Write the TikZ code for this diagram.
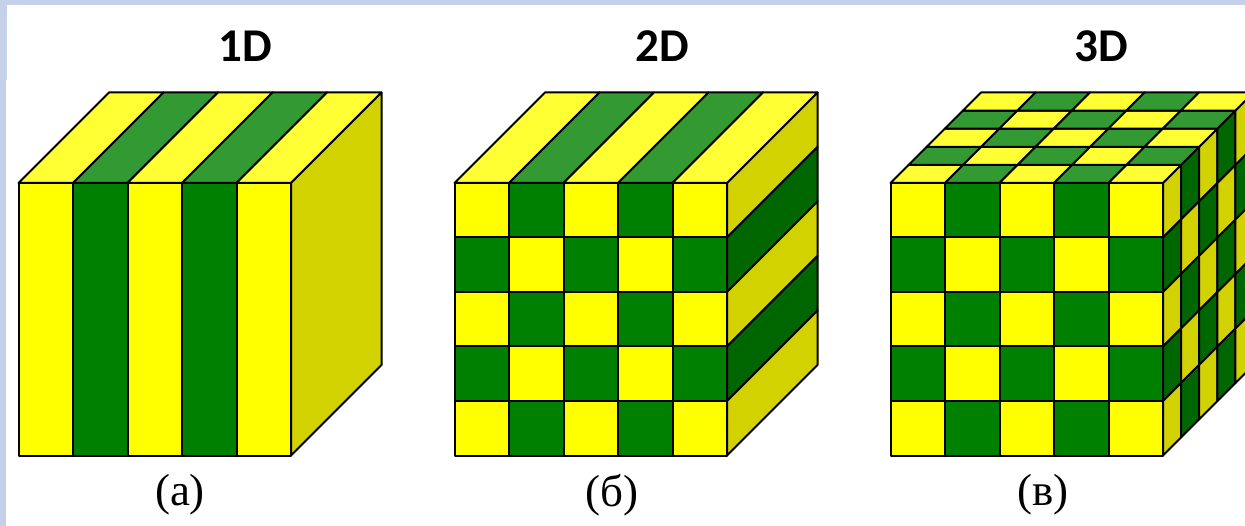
\documentclass[tikz,border=0pt]{standalone}
\usepackage{fontspec}
\setmainfont{Liberation Serif}
\newfontfamily\headfont{Carlito}
\definecolor{fy}{HTML}{FFFF00}
\definecolor{fg}{HTML}{008000}
\definecolor{ty}{HTML}{FFFF33}
\definecolor{tg}{HTML}{339933}
\definecolor{sy}{HTML}{D2D200}
\definecolor{sg}{HTML}{006600}
\definecolor{barcol}{HTML}{C5D0E9}
\tikzset{
  x=1pt,y=-1pt,
  cell/.style={draw=black,line width=2pt,line join=round},
  headtext/.style={font=\headfont\bfseries\fontsize{47}{47}\selectfont,text=black,inner sep=0pt},
  captext/.style={font=\fontsize{45}{45}\selectfont,text=black,inner sep=0pt}
}
\begin{document}
\begin{tikzpicture}
\def\cs{54.5}
\def\ds{18.1}
\def\dd{90.5}
\def\ww{272.5}
\useasboundingbox (0,0) rectangle (1245,526);
\clip (0,0) rectangle (1245,526);
\fill[white] (0,0) rectangle (1245,526);
\fill[barcol] (0,0) rectangle (1245,5);
\fill[barcol] (0,0) rectangle (7,80);
\fill[barcol] (0,80) rectangle (6,526);
% ---------- cube a
\begin{scope}[shift={(18.5,183)}]
  \foreach \i in {0,...,4}{
    \pgfmathsetmacro{\xa}{\i*\cs}
    \pgfmathtruncatemacro{\p}{mod(\i,2)}
    \ifnum\p=0 \def\fc{fy}\def\tc{ty}\else\def\fc{fg}\def\tc{tg}\fi
    \filldraw[fill=\tc,cell] (\xa,0) -- ++(\dd,-\dd) -- ++(\cs,0) -- ++(-\dd,\dd) -- cycle;
    \filldraw[fill=\fc,cell] (\xa,0) rectangle ++(\cs,\ww);
  }
  \filldraw[fill=sy,cell] (\ww,0) -- ++(\dd,-\dd) -- ++(0,\ww) -- ++(-\dd,\dd) -- cycle;
\end{scope}
% ---------- cube b
\begin{scope}[shift={(454.5,183)}]
  \foreach \i in {0,...,4}{
    \pgfmathsetmacro{\xa}{\i*\cs}
    \pgfmathtruncatemacro{\p}{mod(\i,2)}
    \ifnum\p=0 \def\tc{ty}\def\sdc{sy}\else\def\tc{tg}\def\sdc{sg}\fi
    \filldraw[fill=\tc,cell] (\xa,0) -- ++(\dd,-\dd) -- ++(\cs,0) -- ++(-\dd,\dd) -- cycle;
    \filldraw[fill=\sdc,cell] (\ww,\xa) -- ++(\dd,-\dd) -- ++(0,\cs) -- ++(-\dd,\dd) -- cycle;
    \foreach \j in {0,...,4}{
      \pgfmathsetmacro{\ya}{\j*\cs}
      \pgfmathtruncatemacro{\q}{mod(\i+\j,2)}
      \ifnum\q=0 \def\fc{fy}\else\def\fc{fg}\fi
      \filldraw[fill=\fc,cell] (\xa,\ya) rectangle ++(\cs,\cs);
    }
  }
\end{scope}
% ---------- cube c
\begin{scope}[shift={(890.5,183)}]
  \foreach \i in {0,...,4}{
    \pgfmathsetmacro{\xa}{\i*\cs}
    \foreach \j in {0,...,4}{
      \pgfmathsetmacro{\ya}{\j*\cs}
      \pgfmathsetmacro{\da}{\j*\ds}
      \pgfmathtruncatemacro{\q}{mod(\i+\j,2)}
      \ifnum\q=0 \def\fc{fy}\def\tc{ty}\def\sdc{sy}\else\def\fc{fg}\def\tc{tg}\def\sdc{sg}\fi
      \filldraw[fill=\tc,cell] (\xa+\da,-\da) -- ++(\ds,-\ds) -- ++(\cs,0) -- ++(-\ds,\ds) -- cycle;
      \filldraw[fill=\sdc,cell] (\ww+\da,\xa-\da) -- ++(\ds,-\ds) -- ++(0,\cs) -- ++(-\ds,\ds) -- cycle;
      \filldraw[fill=\fc,cell] (\xa,\ya) rectangle ++(\cs,\cs);
    }
  }
\end{scope}
% ---------- labels
\node[headtext] (h1) at (245.5,46) {1D};
\node[headtext] (h2) at (662,46) {2D};
\node[headtext] (h3) at (1101,46) {3D};
\node[captext] (c1) at (180,495) {(а)};
\node[captext] (c2) at (612,495) {(б)};
\node[captext] (c3) at (1043,495) {(в)};
\end{tikzpicture}
\end{document}
